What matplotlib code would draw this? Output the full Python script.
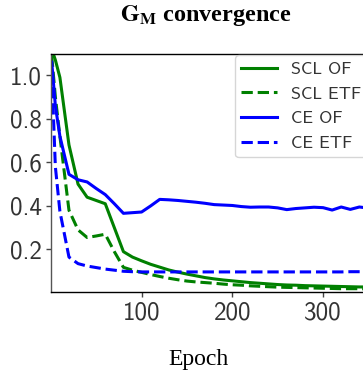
import matplotlib.pyplot as plt

# convergence of G_M over training, logged at these epochs
epochs = [1, 5, 10, 20, 30, 40, 50, 60, 70, 80, 90, 100, 110, 120, 130, 140,
          150, 160, 170, 180, 190, 200, 210, 220, 230, 240, 250, 260, 270,
          280, 290, 300, 310, 320, 330, 340, 350, 360]

scl_of = [1.12, 1.07, 0.99, 0.68, 0.50, 0.44, 0.425, 0.41, 0.30, 0.19, 0.165,
          0.148, 0.132, 0.119, 0.106, 0.096, 0.087, 0.079, 0.071, 0.065, 0.060,
          0.056, 0.052, 0.048, 0.045, 0.042, 0.039, 0.037, 0.036, 0.034, 0.033,
          0.032, 0.031, 0.030, 0.029, 0.028, 0.028, 0.027]

scl_etf = [1.09, 0.90, 0.72, 0.38, 0.29, 0.255, 0.262, 0.27, 0.19, 0.118, 0.105,
           0.095, 0.085, 0.076, 0.068, 0.061, 0.055, 0.051, 0.048, 0.045, 0.041,
           0.038, 0.036, 0.033, 0.031, 0.029, 0.027, 0.026, 0.025, 0.024, 0.023,
           0.022, 0.021, 0.020, 0.020, 0.020, 0.019, 0.019]

ce_of = [1.06, 0.86, 0.72, 0.545, 0.52, 0.51, 0.48, 0.452, 0.41, 0.366, 0.369,
         0.372, 0.40, 0.43, 0.428, 0.425, 0.421, 0.417, 0.412, 0.406, 0.404,
         0.402, 0.397, 0.394, 0.395, 0.395, 0.391, 0.383, 0.388, 0.391, 0.394,
         0.392, 0.381, 0.395, 0.384, 0.395, 0.390, 0.390]

ce_etf = [1.02, 0.58, 0.375, 0.165, 0.135, 0.124, 0.117, 0.110, 0.105, 0.100,
          0.098, 0.097, 0.097, 0.097, 0.097, 0.097, 0.097, 0.097, 0.097, 0.097,
          0.097, 0.097, 0.097, 0.097, 0.097, 0.097, 0.097, 0.097, 0.097, 0.097,
          0.097, 0.097, 0.097, 0.097, 0.098, 0.098, 0.098, 0.098]

plt.rcParams['mathtext.fontset'] = 'stix'
plt.rcParams['axes.unicode_minus'] = False

fig = plt.figure(figsize=(3.63, 3.72), dpi=100)
ax = fig.add_axes([0.14, 0.214, 1.0, 0.64])

lw = 2.2
ax.plot(epochs, scl_of, color='green', lw=lw, label='SCL OF')
ax.plot(epochs, scl_etf, color='green', lw=lw, ls='--', label='SCL ETF')
ax.plot(epochs, ce_of, color='blue', lw=lw, label='CE OF')
ax.plot(epochs, ce_etf, color='blue', lw=lw, ls='--', label='CE ETF')

ax.set_xlim(0, 400)
ax.set_ylim(0.003, 1.096)
ax.set_xticks([100, 200, 300])
ax.set_yticks([0.2, 0.4, 0.6, 0.8, 1.0])
ax.tick_params(length=3.5, width=1, color='#444', labelcolor='#333',
               labelsize=18, pad=3)
for lab in ax.get_xticklabels() + ax.get_yticklabels():
    lab.set_family('cmss10')
for s in ax.spines.values():
    s.set_color('black')
    s.set_linewidth(1)
ax.spines['left'].set_color('#555')

leg = ax.legend(loc='upper left', bbox_to_anchor=(235 / 363, 1 - 55 / 372),
                bbox_transform=fig.transFigure, borderaxespad=0,
                prop={'family': 'cmss10', 'size': 13},
                labelspacing=0.5, handlelength=2.0, handletextpad=0.75,
                borderpad=0.35)
for t in leg.get_texts():
    t.set_color('#333')

fig.text(206 / 363, 1 - 15 / 372, r'$\mathbf{G}_{\mathbf{M}}$ convergence',
         family='Liberation Serif', fontweight='bold', fontsize=17.5,
         ha='center', va='center')
fig.text(198 / 363, 1 - 360 / 372, 'Epoch', family='Liberation Serif',
         fontsize=17, ha='center', va='center')

fig.savefig('out.png', dpi=100)
